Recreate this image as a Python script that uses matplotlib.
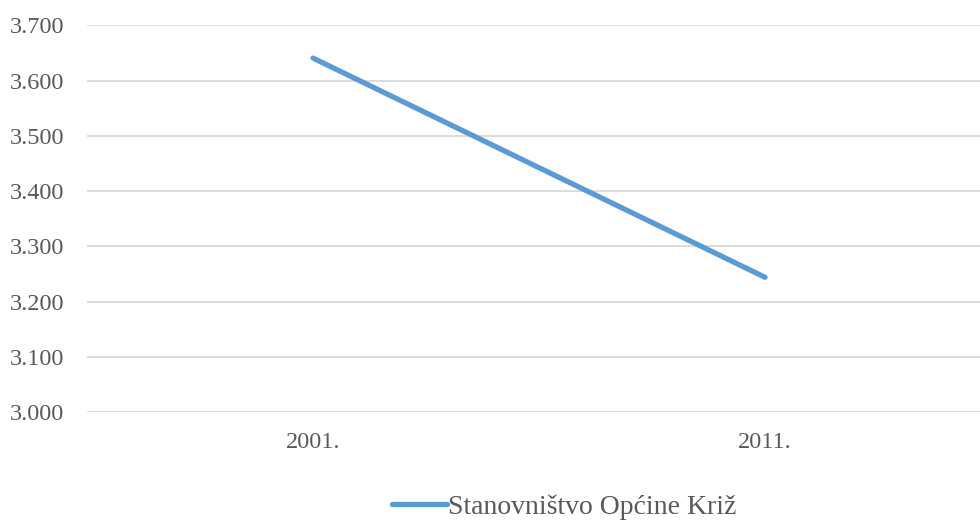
import matplotlib
matplotlib.use("Agg")
import matplotlib.pyplot as plt
from matplotlib.ticker import FuncFormatter

categories = ["2001.", "2011."]
values = [3641, 3244]
series_name = "Stanovništvo Općine Križ"
yticks = [3000, 3100, 3200, 3300, 3400, 3500, 3600, 3700]

plt.rcParams['font.family'] = ['Liberation Serif', 'DejaVu Serif']
text_color = "#595959"
fs = 17.5
px = 72 / 100  # points per pixel

fig = plt.figure(figsize=(9.8, 5.21), dpi=100)
ax = fig.add_axes([87/980, 1 - 412/521, 904/980, (412 - 25.5)/521])

x = list(range(len(categories)))
ax.plot(x, values, color="#5B9BD5", linewidth=3.8, solid_capstyle="round", label=series_name)

ax.set_xlim(-0.5, len(categories) - 0.5)
ax.set_ylim(3000, 3700)
ax.set_yticks(yticks)
ax.yaxis.set_major_formatter(FuncFormatter(lambda v, p: f"{int(v):,}".replace(",", ".")))
ax.set_xticks(x)
ax.set_xticklabels(categories)
ax.grid(axis="y", color="#D9D9D9", linewidth=1.3)
ax.set_axisbelow(True)
for s in ax.spines.values():
    s.set_visible(False)
ax.tick_params(axis="both", length=0, labelsize=fs, colors=text_color)
ax.tick_params(axis="y", pad=77 * px)
ax.tick_params(axis="x", pad=31 * px)
for lbl in ax.get_yticklabels():
    lbl.set_horizontalalignment("left")
for lbl in ax.get_xticklabels():
    lbl.set_verticalalignment("center")

lfs = 20
leg = fig.legend(loc="center left", bbox_to_anchor=(378/980, 1 - 507/521), frameon=False,
                 fontsize=lfs, handlelength=55 / (lfs / px), handletextpad=0.05, borderpad=0,
                 labelcolor=text_color)

fig.savefig("out.png", dpi=100)
